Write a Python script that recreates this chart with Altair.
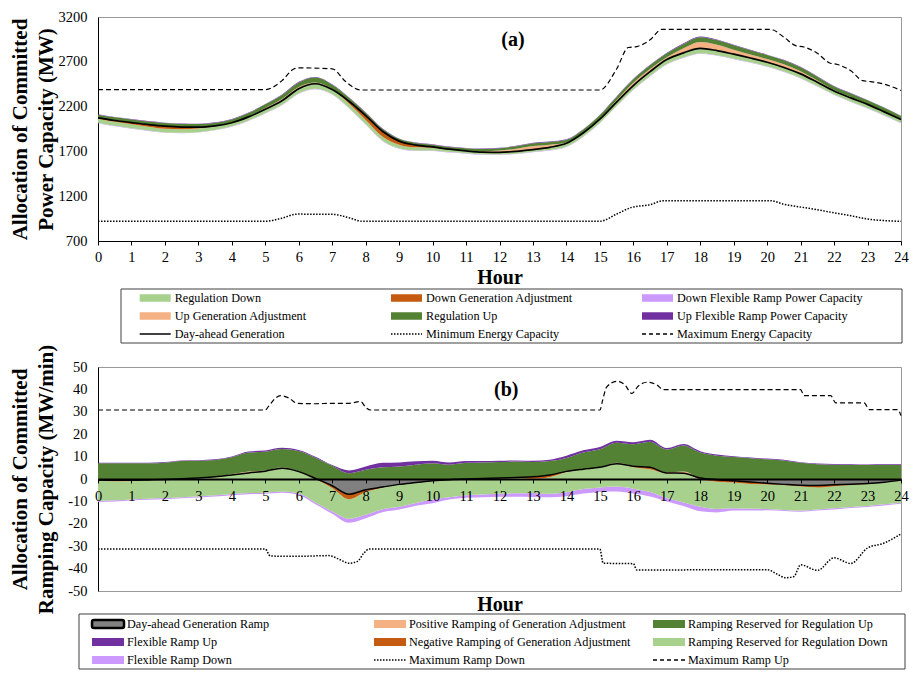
import altair as alt
import pandas as pd
import numpy as np

FONT = "Liberation Serif"
W = 803
H1 = 224
H2 = 224
G1 = 126
G2 = 79

LG, DO, LAV, LO, DG, PU, GR = "#A9D18E", "#C55A11", "#CC99FF", "#F4B183", "#548235", "#7030A0", "#808080"

HOURS = [h / 2 for h in range(49)]
X_TICKS = list(range(25))
Y_TICKS_A = [700, 1200, 1700, 2200, 2700, 3200]
Y_TICKS_B = [-50, -40, -30, -20, -10, 0, 10, 20, 30, 40, 50]

# ---------------- panel (a): committed power capacity (MW) ----------------
da_gen = [2075, 2045, 2022, 2000, 1982, 1972, 1970,
          1985, 2020, 2085, 2170, 2265, 2400, 2455,
          2390, 2260, 2100, 1925, 1815, 1770, 1750,
          1725, 1705, 1692, 1690, 1700, 1720, 1745,
          1790, 1905, 2060, 2250, 2435, 2590, 2725,
          2800, 2850, 2825, 2785, 2742, 2695, 2637,
          2565, 2472, 2375, 2297, 2225, 2141, 2055]
up_gen_adj = [0, 0, 0, 0, 0, 0, 0,
              0, 2, 5, 15, 20, 20, 15,
              10, 0, 0, 0, 0, 0, 0,
              0, 5, 10, 20, 30, 40, 30,
              10, 5, 10, 20, 30, 30, 25,
              50, 70, 65, 50, 40, 35, 35,
              30, 20, 10, 10, 5, 5, 0]
down_gen_adj = [10, 15, 20, 25, 30, 25, 15,
                5, 0, 0, 0, 0, 0, 0,
                0, 25, 50, 60, 40, 25, 10,
                5, 0, 0, 0, 0, 0, 0,
                0, 0, 0, 0, 0, 0, 0,
                0, 0, 0, 0, 0, 0, 0,
                0, 0, 0, 0, 0, 0, 0]
reg_up = [35, 35, 35, 35, 35, 35, 35,
          35, 35, 38, 40, 45, 50, 55,
          45, 38, 32, 28, 25, 25, 25,
          25, 25, 25, 25, 28, 30, 30,
          30, 32, 35, 38, 40, 42, 45,
          50, 55, 52, 50, 48, 45, 45,
          45, 42, 40, 40, 40, 40, 40]
reg_down = [45, 45, 45, 42, 40, 40, 40,
            40, 40, 40, 42, 45, 50, 55,
            50, 48, 45, 42, 40, 35, 30,
            28, 25, 25, 25, 25, 25, 30,
            35, 38, 40, 42, 45, 48, 50,
            52, 55, 52, 50, 48, 45, 45,
            45, 42, 40, 40, 40, 38, 35]
flex_up_power = [4, 4, 4, 4, 4, 4, 4,
                 4, 4, 5, 5, 5, 6, 6,
                 5, 5, 4, 4, 4, 4, 4,
                 4, 4, 4, 5, 5, 6, 6,
                 5, 5, 5, 5, 5, 6, 6,
                 6, 6, 6, 5, 5, 5, 5,
                 5, 5, 5, 5, 4, 4, 4]
flex_down_power = [5, 5, 5, 5, 5, 5, 5,
                   5, 5, 5, 5, 5, 6, 6,
                   6, 6, 6, 6, 5, 5, 5,
                   5, 5, 5, 5, 5, 5, 5,
                   5, 5, 5, 5, 5, 6, 6,
                   6, 6, 6, 6, 5, 5, 5,
                   5, 5, 5, 5, 5, 5, 5]
min_cap_hours = [0, 5.0, 5.5, 5.95, 7.0, 7.5, 7.9, 15.0, 15.5, 15.95, 16.5, 16.9,
                 20.1, 20.5, 20.95, 21.5, 22.0, 22.5, 23.0, 23.5, 24.0]
min_cap_vals = [920, 920, 955, 1000, 998, 960, 920, 920, 1000, 1075, 1105, 1150,
                1150, 1110, 1082, 1048, 1015, 982, 945, 928, 920]
max_cap_hours = [0, 5.0, 5.5, 5.85, 6.0, 7.0, 7.4, 7.85, 15.0, 15.5, 15.85, 16.1, 16.5,
                 16.85, 20.1, 20.5, 20.85, 21.1, 21.5, 21.85, 22.1, 22.5, 22.85, 23.1,
                 23.5, 24.0]
max_cap_vals = [2390, 2390, 2490, 2620, 2632, 2622, 2480, 2385, 2385, 2620, 2860, 2870, 2945,
                3062, 3062, 2975, 2880, 2865, 2795, 2690, 2670, 2600, 2490, 2478,
                2450, 2380]

# ---------------- panel (b): committed ramping capacity (MW/min) ----------------
da_ramp = [-0.5, -0.6, -0.6, -0.4, -0.2, 0.1, 0.5,
           1.0, 1.8, 2.7, 3.5, 4.8, 3.3, 0.2,
           -3.0, -6.8, -4.8, -3.6, -2.4, -1.6, -0.8,
           -0.3, 0.0, 0.2, 0.4, 0.7, 1.0, 1.8,
           3.4, 4.4, 5.2, 6.8, 5.7, 5.2, 2.7,
           2.6, 0.4, -0.3, -0.8, -1.3, -1.9, -2.4,
           -2.8, -2.9, -2.6, -2.3, -2.0, -1.4, -0.5]
pos_ramp_adj = [0, 0, 0, 0, 0, 0, 0,
                0, 0.3, 0.6, 0.3, 0.3, 0.1, 0,
                0, 0, 0, 0, 0, 0, 0,
                0, 0, 0, 0, 0, 0, 0,
                0, 0, 0.2, 0.5, 0.2, 0, 0.3,
                0.8, 0.2, 0, 0, 0, 0, 0,
                0, 0, 0, 0, 0, 0, 0]
neg_ramp_adj = [0.3, 0.4, 0.3, 0.1, 0, 0, 0,
                0, 0, 0, 0, 0, 0, 0.2,
                1.0, 2.2, 1.0, 0.3, 0.1, 0.1, 0.1,
                0.1, 0.1, 0.1, 0.1, 0.2, 0.9, 1.0,
                0.3, 0, 0, 0, 0.4, 0.9, 0.2,
                0, 0.5, 0.9, 0.8, 0.9, 0.5, 0.3,
                0.6, 0.9, 0.6, 0.4, 0.2, 0.1, 0]
reg_up_edge = [7.0, 7.0, 7.0, 7.0, 7.3, 8.0, 8.1,
               8.5, 9.7, 11.8, 12.2, 13.4, 12.5, 9.5,
               5.9, 2.6, 4.1, 5.2, 5.6, 6.4, 7.0,
               6.4, 7.2, 7.4, 7.6, 7.8, 7.6, 8.0,
               9.4, 11.8, 13.3, 16.2, 15.5, 16.6, 13.2,
               15.0, 11.8, 10.4, 9.8, 9.3, 8.8, 8.3,
               7.2, 6.6, 6.4, 6.3, 6.2, 6.3, 6.3]
flex_ramp_up = [0.3, 0.3, 0.3, 0.3, 0.3, 0.3, 0.3,
                0.3, 0.4, 0.5, 0.5, 0.5, 0.5, 0.4,
                0.3, 1.2, 1.5, 2.0, 1.8, 1.5, 1.2,
                1.0, 0.8, 0.6, 0.5, 0.5, 0.5, 0.6,
                1.0, 1.0, 1.0, 0.9, 0.9, 0.9, 0.6,
                0.6, 0.6, 0.5, 0.4, 0.3, 0.3, 0.3,
                0.3, 0.3, 0.3, 0.3, 0.3, 0.3, 0.3]
reg_down_edge = [-9.8, -9.5, -9.1, -8.8, -8.5, -8.1, -7.8,
                 -7.3, -6.7, -6.3, -6.1, -5.6, -6.5, -10.5,
                 -14.5, -17.7, -16.0, -13.5, -12.4, -10.7, -9.2,
                 -8.2, -7.2, -6.9, -6.6, -6.4, -6.2, -6.6,
                 -5.9, -4.5, -3.8, -3.4, -4.3, -5.8, -8.5,
                 -10.5, -12.4, -13.4, -13.1, -13.3, -13.4, -13.8,
                 -14.1, -13.6, -13.1, -12.5, -12.0, -11.3, -10.6]
flex_ramp_down = [0.5, 0.5, 0.5, 0.5, 0.5, 0.5, 0.5,
                  0.5, 0.5, 0.5, 0.5, 0.5, 0.6, 0.8,
                  1.0, 1.8, 1.5, 1.3, 1.2, 1.2, 1.6,
                  1.0, 1.2, 1.2, 1.3, 1.5, 1.8, 1.6,
                  1.8, 2.0, 2.0, 2.2, 2.2, 2.0, 1.5,
                  1.5, 2.0, 1.5, 1.0, 0.8, 0.6, 0.5,
                  0.5, 0.5, 0.5, 0.5, 0.5, 0.5, 0.5]
ramp_up_max_hours = [0, 5, 5.1, 5.3, 5.45, 5.7, 5.95, 6.5, 7.0, 7.5, 7.85, 8.0, 8.15,
                     15.0, 15.08, 15.2, 15.5, 15.75, 15.95, 16.15, 16.4, 16.7, 16.9,
                     21.0, 21.1, 21.9, 22.05, 22.9, 23.05, 23.9, 24.0]
ramp_up_max_vals = [30.8, 30.8, 32.5, 36.0, 37.2, 36.2, 33.8, 33.6, 33.8, 33.8, 34.6, 32.0, 30.8,
                    30.8, 35.0, 41.0, 43.6, 42.0, 38.2, 41.5, 43.2, 42.0, 39.9,
                    39.9, 37.2, 37.2, 34.0, 34.0, 31.0, 31.0, 28.3]
ramp_down_max_hours = [0, 5.0, 5.15, 6.0, 6.9, 7.2, 7.5, 7.75, 7.95, 8.1, 15.0, 15.1, 16.0,
                       16.1, 20.0, 20.3, 20.55, 20.8, 21.0, 21.5, 22.0, 22.5, 23.0, 23.5, 24.0]
ramp_down_max_vals = [-31.3, -31.3, -34.4, -34.5, -34.2, -35.8, -37.6, -36.8, -33.0, -31.3, -31.3,
                      -37.6, -37.8, -40.6, -40.5, -42.5, -44.1, -43.5, -38.3, -40.8, -35.2,
                      -37.7, -30.8, -28.6, -24.5]

LEGEND_A = [("Regulation Down", "fill", LG), ("Down Generation Adjustment", "fill", DO),
            ("Down Flexible Ramp Power Capacity", "fill", LAV),
            ("Up Generation Adjustment", "fill", LO), ("Regulation Up", "fill", DG),
            ("Up Flexible Ramp Power Capacity", "fill", PU),
            ("Day-ahead Generation", "solid", "black"), ("Minimum Energy Capacity", "dotted", "black"),
            ("Maximum Energy Capacity", "dashed", "black")]
LEGEND_B = [("Day-ahead Generation Ramp", "outlined", GR),
            ("Positive Ramping of Generation Adjustment", "fill", LO),
            ("Ramping Reserved for Regulation Up", "fill", DG),
            ("Flexible Ramp Up", "fill", PU), ("Negative Ramping of Generation Adjustment", "fill", DO),
            ("Ramping Reserved for Regulation Down", "fill", LG),
            ("Flexible Ramp Down", "fill", LAV), ("Maximum Ramp Down", "dotted", "black"),
            ("Maximum Ramp Up", "dashed", "black")]

DOT = [1.5, 1.5]
DASH = [5, 3]

# ---------------- shared axis helpers ----------------
XS = alt.Scale(domain=[0, 24], nice=False, zero=False)
AX_COMMON = dict(grid=False, labelFont=FONT, titleFont=FONT, labelFontSize=14.5,
                 labelColor="black", titleColor="black", domainColor="black", tickColor="black",
                 labelExpr="'' + datum.value")
XAXIS_A = alt.Axis(values=X_TICKS, title="Hour", tickSize=4, labelPadding=5, labelFlush=False,
                   labelOverlap=False, titleFontSize=20, titleFontWeight="bold", titlePadding=4,
                   **AX_COMMON)
XAXIS_B = alt.Axis(values=X_TICKS, title="Hour", tickSize=4, labelPadding=6, labelFlush=False,
                   labelOverlap=False, titleFontSize=20, titleFontWeight="bold",
                   offset=-H2 / 2, titleY=H2 / 2 + 3, domainWidth=2, zindex=1, **AX_COMMON)
YTITLE_KW = dict(ticks=False, labelPadding=11, minExtent=40, titlePadding=2, titleFontSize=21,
                 titleFontWeight="bold", titleLineHeight=26)
YS_A = alt.Scale(domain=[700, 3200], nice=False, zero=False)
YAXIS_A = alt.Axis(values=Y_TICKS_A, title=["Allocation of Committed", "Power Capacity (MW)"],
                   **YTITLE_KW, **AX_COMMON)
YS_B = alt.Scale(domain=[-50, 50], nice=False, zero=False)
YAXIS_B = alt.Axis(values=Y_TICKS_B, title=["Allocation of Committed", "Ramping Capacity (MW/min)"],
                   **YTITLE_KW, **AX_COMMON)


def enc(xaxis, ys, yaxis, y, y2=None):
    d = dict(x=alt.X("hour:Q", scale=XS, axis=xaxis), y=alt.Y(f"{y}:Q", scale=ys, axis=yaxis))
    if y2 is not None:
        d["y2"] = alt.Y2(f"{y2}:Q")
    return d


# ---------------- panel (a) ----------------
ta = pd.DataFrame({"hour": HOURS, "g": da_gen})
ta["dn1"] = ta["g"] - np.array(down_gen_adj)
ta["dn2"] = ta["dn1"] - np.array(reg_down)
ta["dn3"] = ta["dn2"] - np.array(flex_down_power)
ta["up1"] = ta["g"] + np.array(up_gen_adj)
ta["up2"] = ta["up1"] + np.array(reg_up)
ta["up3"] = ta["up2"] + np.array(flex_up_power)


def band_a(lo, hi, color):
    return alt.Chart(ta).mark_area(color=color, opacity=1, interpolate="monotone").encode(
        **enc(XAXIS_A, YS_A, YAXIS_A, lo, hi))


min_cap = pd.DataFrame({"hour": min_cap_hours, "v": min_cap_vals})
max_cap = pd.DataFrame({"hour": max_cap_hours, "v": max_cap_vals})
label_a = pd.DataFrame({"hour": [12.4], "v": [2945], "t": ["(a)"]})

top = alt.layer(
    band_a("dn3", "dn2", LAV),
    band_a("dn2", "dn1", LG),
    band_a("dn1", "g", DO),
    band_a("g", "up1", LO),
    band_a("up1", "up2", DG),
    band_a("up2", "up3", PU),
    alt.Chart(ta).mark_line(color="black", strokeWidth=1.7, interpolate="monotone").encode(
        **enc(XAXIS_A, YS_A, YAXIS_A, "g")),
    alt.Chart(min_cap).mark_line(color="black", strokeWidth=1.5, strokeDash=DOT,
                                 interpolate="monotone").encode(**enc(XAXIS_A, YS_A, YAXIS_A, "v")),
    alt.Chart(max_cap).mark_line(color="black", strokeWidth=1.2, strokeDash=DASH,
                                 interpolate="monotone").encode(**enc(XAXIS_A, YS_A, YAXIS_A, "v")),
    alt.Chart(label_a).mark_text(font=FONT, fontSize=20, fontWeight="bold", color="black").encode(
        text="t:N", **enc(XAXIS_A, YS_A, YAXIS_A, "v")),
).properties(width=W, height=H1)

# ---------------- panel (b) ----------------
tb = pd.DataFrame({"hour": HOURS, "r": da_ramp, "rut": reg_up_edge, "rdb": reg_down_edge})
tb["lo1"] = tb["r"] - np.array(neg_ramp_adj)
tb["up1"] = tb["r"] + np.array(pos_ramp_adj)
tb["fut"] = tb["rut"] + np.array(flex_ramp_up)
tb["fdb"] = tb["rdb"] - np.array(flex_ramp_down)
tb["neg"] = np.minimum(tb["r"], 0)
tb["zero"] = 0.0


def band_b(lo, hi, color):
    return alt.Chart(tb).mark_area(color=color, opacity=1, interpolate="monotone").encode(
        **enc(XAXIS_B, YS_B, YAXIS_B, lo, hi))


rmax_up = pd.DataFrame({"hour": ramp_up_max_hours, "v": ramp_up_max_vals})
rmax_dn = pd.DataFrame({"hour": ramp_down_max_hours, "v": ramp_down_max_vals})
label_b = pd.DataFrame({"hour": [12.2], "v": [39.7], "t": ["(b)"]})

bottom = alt.layer(
    band_b("fdb", "rdb", LAV),
    band_b("rdb", "lo1", LG),
    band_b("lo1", "r", DO),
    band_b("r", "up1", LO),
    band_b("up1", "rut", DG),
    band_b("rut", "fut", PU),
    band_b("neg", "zero", GR),
    alt.Chart(tb).mark_line(color="black", strokeWidth=1.5, interpolate="monotone").encode(
        **enc(XAXIS_B, YS_B, YAXIS_B, "r")),
    alt.Chart(rmax_up).mark_line(color="black", strokeWidth=1.2, strokeDash=DASH,
                                 interpolate="monotone").encode(**enc(XAXIS_B, YS_B, YAXIS_B, "v")),
    alt.Chart(rmax_dn).mark_line(color="black", strokeWidth=1.5, strokeDash=DOT,
                                 interpolate="monotone").encode(**enc(XAXIS_B, YS_B, YAXIS_B, "v")),
    alt.Chart(label_b).mark_text(font=FONT, fontSize=20, fontWeight="bold", color="black").encode(
        text="t:N", **enc(XAXIS_B, YS_B, YAXIS_B, "v")),
).properties(width=W, height=H2)


# ---------------- legends ----------------
def legend(items, col_x, sw, sh, tdx, row_y, box_x, box_y, height):
    df = pd.DataFrame(items, columns=["label", "kind", "color"])
    df["x0"] = [col_x[i % 3] for i in range(len(df))]
    df["x1"] = df["x0"] + sw
    df["xt"] = df["x0"] + tdx
    df["y"] = [row_y[i // 3] for i in range(len(df))]
    df["y0"] = df["y"] - sh / 2
    df["y1"] = df["y"] + sh / 2
    lx = alt.Scale(domain=[0, W], nice=False, zero=False)
    ly = alt.Scale(domain=[0, height], reverse=True, nice=False, zero=False)

    def ex(f, f2=None):
        d = dict(x=alt.X(f"{f}:Q", scale=lx, axis=None))
        if f2:
            d["x2"] = alt.X2(f"{f2}:Q")
        return d

    def ey(f, f2=None):
        d = dict(y=alt.Y(f"{f}:Q", scale=ly, axis=None))
        if f2:
            d["y2"] = alt.Y2(f"{f2}:Q")
        return d

    boxdf = pd.DataFrame({"x0": [box_x[0]], "x1": [box_x[1]], "y0": [box_y[0]], "y1": [box_y[1]]})
    layers = [alt.Chart(boxdf).mark_rect(fill="white", stroke="#404040", strokeWidth=1).encode(
        **ex("x0", "x1"), **ey("y0", "y1"))]
    f = df[df["kind"] == "fill"]
    if len(f):
        layers.append(alt.Chart(f).mark_rect().encode(
            color=alt.Color("color:N", scale=None), **ex("x0", "x1"), **ey("y0", "y1")))
    o = df[df["kind"] == "outlined"]
    if len(o):
        layers.append(alt.Chart(o).mark_rect(stroke="black", strokeWidth=2.5, cornerRadius=2).encode(
            color=alt.Color("color:N", scale=None), **ex("x0", "x1"), **ey("y0", "y1")))
    for kind, dash, sw_ in (("solid", None, 1.5), ("dotted", DOT, 1.4), ("dashed", [4, 3], 1.3)):
        s = df[df["kind"] == kind]
        if len(s):
            kw = dict(color="black", strokeWidth=sw_)
            if dash:
                kw["strokeDash"] = dash
            layers.append(alt.Chart(s).mark_rule(**kw).encode(**ex("x0", "x1"), **ey("y")))
    layers.append(alt.Chart(df).mark_text(align="left", baseline="middle", font=FONT, fontSize=12.2,
                                          color="black").encode(text="label:N", **ex("xt"), **ey("y")))
    return alt.layer(*layers).properties(width=W, height=height,
                                         view=alt.ViewBackground(stroke="transparent"))


leg_a = legend(LEGEND_A, [41.7, 293, 544], 31, 7.5, 35, [57, 75, 93], [23, 804], [48, 102], G1)
leg_b = legend(LEGEND_B, [-6, 276, 555], 32, 8, 35, [33, 51, 69], [-19, 807], [23, 78], G2)

chart = alt.vconcat(top, leg_a, bottom, leg_b, spacing=0, bounds="flush", padding=0).configure_view(
    stroke="#999999", strokeWidth=1).configure_text(font=FONT)

chart.save("out.html", embed_options={"renderer": "svg", "actions": False})
